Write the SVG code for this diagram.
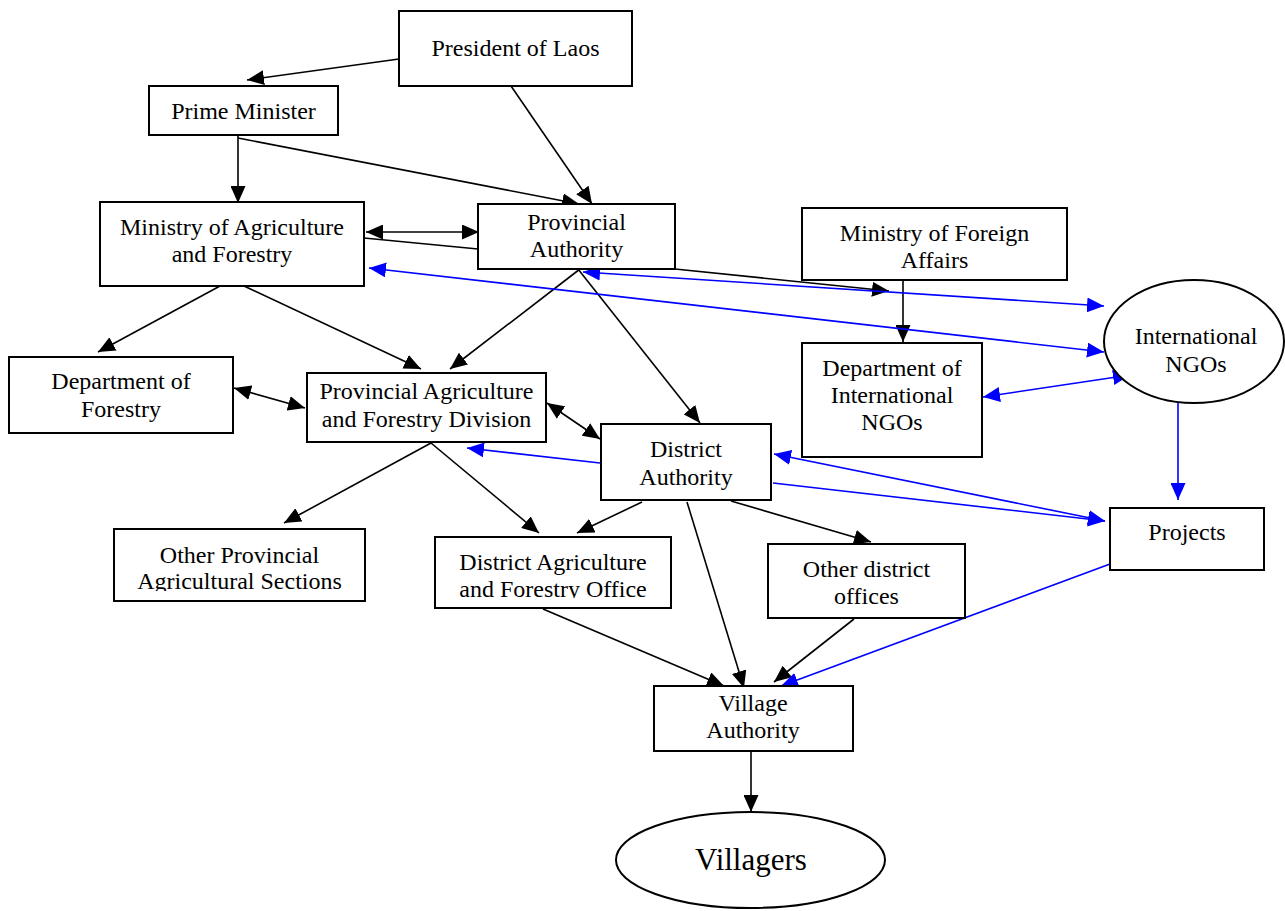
<svg xmlns="http://www.w3.org/2000/svg" width="1285" height="911" viewBox="0 0 1285 911">
  <style>
    .box { fill: #ffffff; stroke: #000000; stroke-width: 2; }
    .lbl { font-family: "Liberation Serif", "Times New Roman", serif; font-size: 24px; fill: #000000; text-anchor: middle; }
    .big { font-size: 31px; }
    .k { stroke: #000000; stroke-width: 1.6; fill: none; }
    .b { stroke: #0000ff; stroke-width: 1.6; fill: none; }
    .k.a { marker-end: url(#ak); }
    .k.d { marker-start: url(#ak); marker-end: url(#ak); }
    .b.a { marker-end: url(#ab); }
    .b.d { marker-start: url(#ab); marker-end: url(#ab); }
  </style>
  <defs>
    <marker id="ak" markerUnits="userSpaceOnUse" markerWidth="17" markerHeight="15" refX="17" refY="7.5" orient="auto-start-reverse">
      <path d="M0,0 L17,7.5 L0,15 Z" fill="#000000"/>
    </marker>
    <marker id="ab" markerUnits="userSpaceOnUse" markerWidth="17" markerHeight="15" refX="17" refY="7.5" orient="auto-start-reverse">
      <path d="M0,0 L17,7.5 L0,15 Z" fill="#0000ff"/>
    </marker>
    <clipPath id="clipOpas"><rect x="114" y="529" width="251" height="62"/></clipPath>
    <clipPath id="clipDafo"><rect x="435" y="537" width="236" height="61"/></clipPath>
  </defs>

  <rect width="1285" height="911" fill="#ffffff"/>

  <g id="connectors">
    <line class="k a" x1="399" y1="59" x2="247" y2="80"/>
    <line class="k a" x1="511" y1="86" x2="592" y2="204"/>
    <line class="k a" x1="238" y1="135" x2="238" y2="203"/>
    <line class="k a" x1="238" y1="138" x2="579" y2="204"/>
    <line class="k d" x1="366" y1="232" x2="479" y2="232"/>
    <line class="k" x1="364" y1="238" x2="478" y2="249"/>
    <line class="k a" x1="675" y1="269" x2="889" y2="291"/>
    <line class="k a" x1="903" y1="280" x2="903" y2="342"/>
    <line class="k a" x1="220" y1="286" x2="98" y2="352"/>
    <line class="k a" x1="244" y1="286" x2="421" y2="369"/>
    <line class="k a" x1="580" y1="269" x2="450" y2="369"/>
    <line class="k a" x1="578" y1="269" x2="700" y2="423"/>
    <line class="k d" x1="234" y1="388" x2="305" y2="408"/>
    <line class="k d" x1="547" y1="403" x2="600" y2="439"/>
    <line class="k a" x1="431" y1="443" x2="284" y2="523"/>
    <line class="k a" x1="431" y1="443" x2="539" y2="533"/>
    <line class="k a" x1="642" y1="502" x2="577" y2="533"/>
    <line class="k a" x1="687" y1="502" x2="744" y2="688"/>
    <line class="k a" x1="731" y1="501" x2="871" y2="542"/>
    <line class="k a" x1="543" y1="609" x2="724" y2="686"/>
    <line class="k a" x1="854" y1="619" x2="774" y2="682"/>
    <line class="k a" x1="751" y1="752" x2="751" y2="812"/>

    <line class="b d" x1="583" y1="272" x2="1104" y2="306"/>
    <line class="b d" x1="369" y1="268" x2="1104" y2="352"/>
    <line class="b d" x1="983" y1="397" x2="1130" y2="375"/>
    <line class="b a" x1="1178" y1="400" x2="1178" y2="500"/>
    <line class="b d" x1="774" y1="454" x2="1105" y2="521"/>
    <line class="b a" x1="773" y1="483" x2="1105" y2="521"/>
    <line class="b a" x1="600" y1="463" x2="467" y2="448"/>
    <line class="b a" x1="1110" y1="564" x2="781" y2="686"/>
  </g>

  <g id="president">
    <rect class="box" x="399" y="11" width="233" height="75"/>
    <text class="lbl" x="515.5" y="56">President of Laos</text>
  </g>
  <g id="prime-minister">
    <rect class="box" x="149" y="86" width="189" height="49"/>
    <text class="lbl" x="243.5" y="119">Prime Minister</text>
  </g>
  <g id="ministry-agriculture">
    <rect class="box" x="100" y="202" width="264" height="84"/>
    <text class="lbl" x="232" y="235">Ministry of Agriculture</text>
    <text class="lbl" x="232" y="262">and Forestry</text>
  </g>
  <g id="provincial-authority">
    <rect class="box" x="478" y="204" width="197" height="65"/>
    <text class="lbl" x="576.5" y="230">Provincial</text>
    <text class="lbl" x="576.5" y="257">Authority</text>
  </g>
  <g id="ministry-foreign">
    <rect class="box" x="802" y="208" width="265" height="72"/>
    <text class="lbl" x="934.5" y="241">Ministry of Foreign</text>
    <text class="lbl" x="934.5" y="268">Affairs</text>
  </g>
  <g id="international-ngos">
    <ellipse class="box" cx="1194" cy="341.5" rx="90" ry="61.5"/>
    <text class="lbl" x="1196" y="344">International</text>
    <text class="lbl" x="1196" y="372">NGOs</text>
  </g>
  <g id="dept-international-ngos">
    <rect class="box" x="802" y="343" width="180" height="114"/>
    <text class="lbl" x="892" y="376">Department of</text>
    <text class="lbl" x="892" y="403">International</text>
    <text class="lbl" x="892" y="430">NGOs</text>
  </g>
  <g id="dept-forestry">
    <rect class="box" x="9" y="357" width="224" height="76"/>
    <text class="lbl" x="121" y="389">Department of</text>
    <text class="lbl" x="121" y="417">Forestry</text>
  </g>
  <g id="provincial-agri-division">
    <rect class="box" x="307" y="373" width="239" height="69"/>
    <text class="lbl" x="426.5" y="399">Provincial Agriculture</text>
    <text class="lbl" x="426.5" y="427">and Forestry Division</text>
  </g>
  <g id="district-authority">
    <rect class="box" x="601" y="424" width="170" height="76"/>
    <text class="lbl" x="686" y="457">District</text>
    <text class="lbl" x="686" y="485">Authority</text>
  </g>
  <g id="projects">
    <rect class="box" x="1110" y="508" width="154" height="62"/>
    <text class="lbl" x="1187" y="540">Projects</text>
  </g>
  <g id="other-provincial-sections">
    <rect class="box" x="114" y="529" width="251" height="72"/>
    <g clip-path="url(#clipOpas)">
      <text class="lbl" x="239.5" y="563">Other Provincial</text>
      <text class="lbl" x="239.5" y="589">Agricultural Sections</text>
    </g>
  </g>
  <g id="district-agri-office">
    <rect class="box" x="435" y="537" width="236" height="71"/>
    <g clip-path="url(#clipDafo)">
      <text class="lbl" x="553" y="570">District Agriculture</text>
      <text class="lbl" x="553" y="597">and Forestry Office</text>
    </g>
  </g>
  <g id="other-district-offices">
    <rect class="box" x="768" y="544" width="197" height="74"/>
    <text class="lbl" x="866.5" y="577">Other district</text>
    <text class="lbl" x="866.5" y="604">offices</text>
  </g>
  <g id="village-authority">
    <rect class="box" x="654" y="686" width="199" height="65"/>
    <text class="lbl" x="753" y="711">Village</text>
    <text class="lbl" x="753" y="738">Authority</text>
  </g>
  <g id="villagers">
    <ellipse class="box" cx="750.5" cy="860" rx="134.5" ry="48"/>
    <text class="lbl big" x="751" y="870">Villagers</text>
  </g>
</svg>
